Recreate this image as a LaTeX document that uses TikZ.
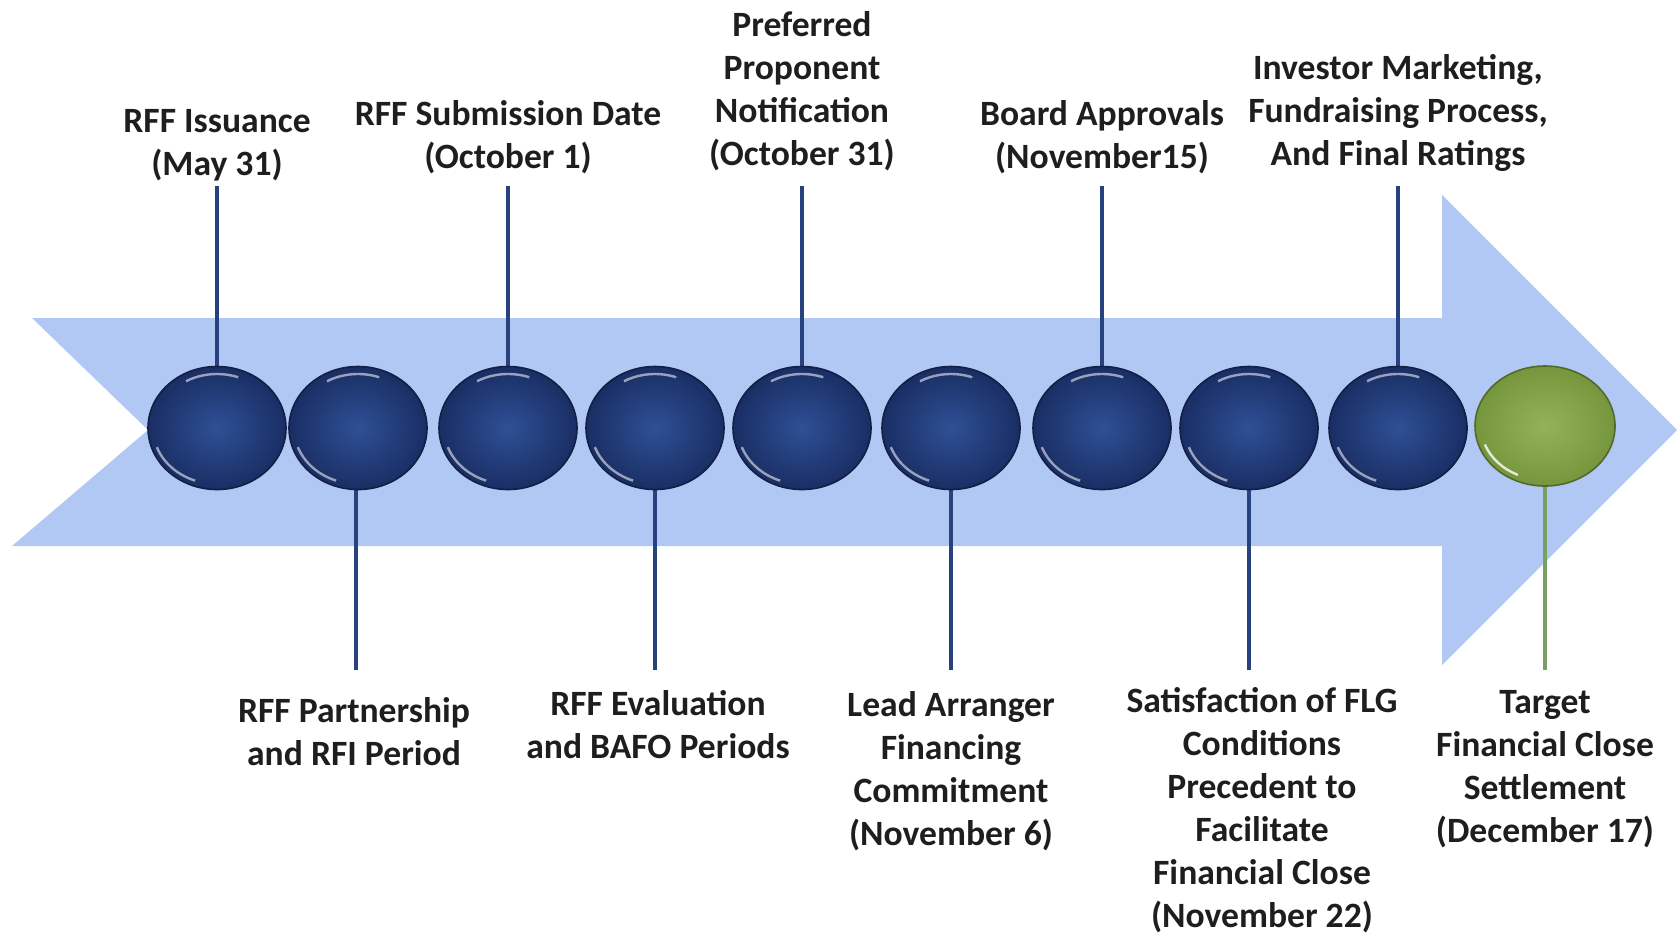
\documentclass[tikz,border=0pt]{standalone}
\usepackage{fontspec}
\setmainfont{Carlito}
\usetikzlibrary{shapes.geometric}
\definecolor{arrowblue}{RGB}{176,200,243}
\definecolor{balldark}{RGB}{26,46,100}
\definecolor{balllight}{RGB}{46,80,150}
\definecolor{stemblue}{RGB}{40,66,128}
\definecolor{greendark}{RGB}{118,150,62}
\definecolor{greenlight}{RGB}{148,178,88}
\definecolor{stemgreen}{RGB}{120,160,100}
\definecolor{txt}{RGB}{30,30,30}
\pgfdeclarelayer{bg}
\pgfdeclarelayer{mid}
\pgfsetlayers{bg,mid,main}
\tikzset{
  ball/.style={ellipse, minimum width=69pt, minimum height=61.5pt, inner sep=0pt,
    inner color=balllight, outer color=balldark, draw=balldark!70!black, line width=0.8pt},
  gball/.style={ellipse, minimum width=70pt, minimum height=60pt, inner sep=0pt,
    inner color=greenlight, outer color=greendark, draw=greendark!70!black, line width=0.8pt},
  stem/.style={draw=stemblue, line width=2.4pt},
  gstem/.style={draw=stemgreen, line width=2.4pt},
  lbl/.style={align=center, text=txt, font=\bfseries\fontsize{17.8}{21.5}\selectfont, inner sep=0pt},
  shine/.style={draw=white, line width=1.2pt, opacity=0.55}
}
\begin{document}
\begin{tikzpicture}[x=0.5pt,y=-0.5pt]
\useasboundingbox (0,0) rectangle (1680,934);
% arrow
\begin{pgfonlayer}{bg}
\fill[arrowblue] (32,318) -- (1442,318) -- (1442,195) -- (1677,430) -- (1442,665) -- (1442,546) -- (12,546) -- (148,430) -- cycle;
\end{pgfonlayer}
% balls
\foreach \i/\x in {1/217,2/358,3/508,4/655,5/802,6/951,7/1102,8/1249,9/1398}{
  \node[ball] (c\i) at (\x,428) {};
  \draw[shine] (c\i.center) ++(200:32pt and 28pt) arc[start angle=200,end angle=250,x radius=32pt,y radius=28pt];
  \draw[shine] (c\i.center) ++(120:31pt and 27pt) arc[start angle=120,end angle=70,x radius=31pt,y radius=27pt];
}
\node[gball] (c10) at (1545,426) {};
\draw[shine,opacity=0.8] (c10.center) ++(200:32pt and 27pt) arc[start angle=200,end angle=245,x radius=32pt,y radius=27pt];
% stem ends
\coordinate (p1) at (217,186);
\coordinate (p3) at (508,186);
\coordinate (p5) at (802,186);
\coordinate (p7) at (1102,186);
\coordinate (p9) at (1398,186);
\coordinate (p2) at (356,670);
\coordinate (p4) at (655,670);
\coordinate (p6) at (951,670);
\coordinate (p8) at (1249,670);
\coordinate (p10) at (1545,670);
\begin{pgfonlayer}{mid}
\foreach \i in {1,3,5,7,9,4,6,8}{ \draw[stem] (p\i) -- (c\i.center); }
\draw[stem] (p2) -- (p2 |- c2.center);
\draw[gstem] (p10) -- (c10.center);
\end{pgfonlayer}
% labels
\node[lbl] (t1) at (217,145) {RFF Issuance\\(May 31)};
\node[lbl] (t3) at (508,137) {RFF Submission Date\\(October 1)};
\node[lbl] (t5) at (802,91) {Preferred\\Proponent\\Notification\\(October 31)};
\node[lbl] (t7) at (1102,137) {Board Approvals\\(November15)};
\node[lbl] (t9) at (1398,113) {Investor Marketing,\\Fundraising Process,\\And Final Ratings};
\node[lbl] (t2) at (354,732) {RFF Partnership\\and RFI Period};
\node[lbl] (t4) at (658,725) {RFF Evaluation\\and BAFO Periods};
\node[lbl] (t6) at (951,771) {Lead Arranger\\Financing\\Commitment\\(November 6)};
\node[lbl] (t8) at (1262,810) {Satisfaction of FLG\\Conditions\\Precedent to\\Facilitate\\Financial Close\\(November 22)};
\node[lbl] (t10) at (1545,769) {Target\\Financial Close\\Settlement\\(December 17)};
\end{tikzpicture}
\end{document}
